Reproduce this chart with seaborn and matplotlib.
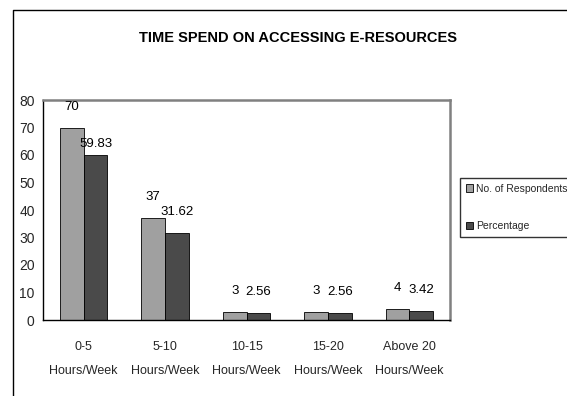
import matplotlib
matplotlib.use("Agg")
import matplotlib.pyplot as plt
from matplotlib import font_manager
from matplotlib.lines import Line2D
from matplotlib.patches import Patch
import numpy as np
import pandas as pd
import seaborn as sns

categories = ["0-5\nHours/Week", "5-10\nHours/Week", "10-15\nHours/Week",
              "15-20\nHours/Week", "Above 20\nHours/Week"]
respondents = [70, 37, 3, 3, 4]
percentage = [59.83, 31.62, 2.56, 2.56, 3.42]
series_names = ["No. of Respondents", "Percentage"]
y_ticks = [0, 10, 20, 30, 40, 50, 60, 70, 80]
title = "TIME SPEND ON ACCESSING E-RESOURCES"

sns.set_theme(style="white")
available = {f.name for f in font_manager.fontManager.ttflist}
families = [f for f in ["Liberation Sans Narrow", "Liberation Sans", "DejaVu Sans"] if f in available]
plt.rcParams["font.family"] = families

df = pd.DataFrame({
    "category": categories * 2,
    "series": [series_names[0]] * len(categories) + [series_names[1]] * len(categories),
    "value": respondents + percentage,
})

colors = ["#a0a0a0", "#4a4a4a"]

fig = plt.figure(figsize=(5.67, 3.96), dpi=100)
ax = fig.add_axes([43 / 567, 1 - 320 / 396, (450 - 43) / 567, (320 - 100) / 396])

sns.barplot(data=df, x="category", y="value", hue="series", palette=colors,
            width=0.58, gap=0, edgecolor="black", linewidth=0.6,
            saturation=1, ax=ax, legend=False)

ax.set_ylim(0, 80)
ax.set_xlim(-0.5, len(categories) - 0.5)
ax.set_yticks(y_ticks)
ax.set_yticklabels([str(t) for t in y_ticks], fontsize=10)
ax.set_xlabel("")
ax.set_ylabel("")

# Category labels without major tick marks; short ticks at group boundaries
ax.tick_params(axis="x", which="major", length=0, labelsize=9, pad=15)
ax.set_xticks(np.arange(-0.5, len(categories)), minor=True)
ax.tick_params(axis="x", which="minor", length=5, width=1, color="black", direction="out")
ax.tick_params(axis="y", length=4, width=1, color="black", direction="out", pad=2)
for lbl in ax.get_xticklabels():
    lbl.set_linespacing(2.3)

for side in ["left", "bottom"]:
    ax.spines[side].set_color("black")
    ax.spines[side].set_linewidth(1.0)
for side in ["top", "right"]:
    ax.spines[side].set_color("#808080")
    ax.spines[side].set_linewidth(1.8)

# Value labels above each bar
label_offsets = [[15, 15, 15, 15, 15], [8, 15, 15, 15, 15]]
for s_idx, container in enumerate(ax.containers):
    vals = respondents if s_idx == 0 else percentage
    texts = [f"{v:g}" if s_idx == 0 else f"{v:.2f}" for v in vals]
    for i, (bar, txt) in enumerate(zip(container, texts)):
        ax.annotate(txt, (bar.get_x() + bar.get_width() / 2, bar.get_height()),
                    xytext=(0, label_offsets[s_idx][i]), textcoords="offset points",
                    ha="center", va="center", fontsize=9.5, color="black",
                    annotation_clip=False)

handles = [Patch(facecolor=c, edgecolor="black", linewidth=0.6) for c in colors]
leg = fig.legend(handles, series_names, loc="upper left",
                 bbox_to_anchor=(460 / 567, 1 - 178 / 396), frameon=True,
                 fontsize=7.5, handlelength=0.7, handleheight=0.7,
                 handletextpad=0.3, labelspacing=2.6, borderpad=0.55,
                 borderaxespad=0, fancybox=False)
leg.get_frame().set_edgecolor("black")
leg.get_frame().set_linewidth(1.0)

fig.text(298 / 567, 1 - 38 / 396, title, ha="center", va="center",
         fontsize=10.5, fontweight="bold", color="black")

# Chart-area border along the left and top
fig.add_artist(Line2D([13 / 567, 13 / 567, 1.0], [0.0, 1 - 10 / 396, 1 - 10 / 396],
                      transform=fig.transFigure, color="black", linewidth=1.0))

fig.savefig("out.png", dpi=100)
